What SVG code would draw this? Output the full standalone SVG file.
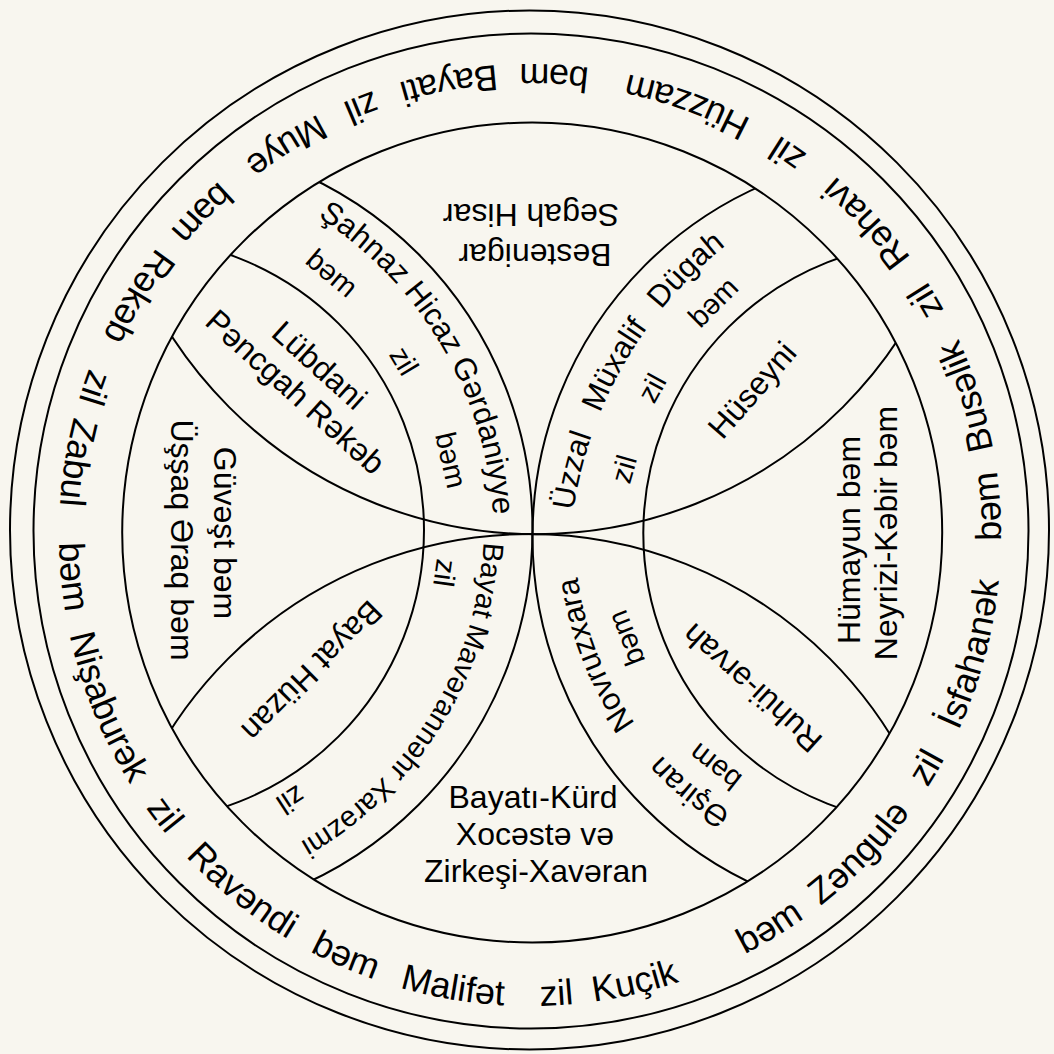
<svg xmlns="http://www.w3.org/2000/svg" width="1054" height="1054" viewBox="0 0 1054 1054">
<defs>
<style>
.ln{fill:none;stroke:#000;stroke-width:2}
text{font-family:"Liberation Sans",Arial,sans-serif;fill:#000}
.ring{font-size:36px;text-anchor:middle}
.lab{font-size:32px;text-anchor:middle;dominant-baseline:central}
.lb{font-size:32px;text-anchor:middle}
.band{font-size:31px;text-anchor:middle}
.band2{font-size:29px;text-anchor:middle}
.sm{font-size:29px;text-anchor:middle;dominant-baseline:central}
</style>
<clipPath id="clipInner"><circle cx="532.2" cy="532.5" r="410"/></clipPath>
<path id="ringPath" d="M 714 968.6 A 471 471 0 1 0 346 101.4 A 471 471 0 1 0 714 968.6"/>
<path id="pUL" d="M 241.3 179.1 A 384 384 0 0 1 489.3 600.1"/>
<path id="pLL" d="M 480.4 471.6 A 369 369 0 0 1 229 874"/>
<path id="pUR" d="M 569 571 A 416 416 0 0 1 842.7 180.1"/>
<path id="pLR" d="M 844 855 A 326 326 0 0 1 579.6 477.4"/>
</defs>
<rect width="1054" height="1054" fill="#f8f6ef"/>

<g id="connectors">
<circle class="ln" cx="529.5" cy="530" r="519.5"/>
<circle class="ln" cx="531" cy="531" r="497.5"/>
<circle class="ln" cx="532.2" cy="532.5" r="410"/>
<g clip-path="url(#clipInner)">
<circle class="ln" cx="142.9" cy="529.5" r="389.6"/>
<circle class="ln" cx="916.2" cy="536.7" r="383.7"/>
<circle class="ln" cx="536" cy="100.2" r="434"/>
<circle class="ln" cx="529" cy="959.4" r="425.4"/>
<circle class="ln" cx="131.8" cy="530" r="292.2"/>
<circle class="ln" cx="934.4" cy="533" r="291.1"/>
</g>
</g>

<g id="outer-ring">
<text class="ring"><textPath href="#ringPath" startOffset="69">bəm</textPath></text>
<text class="ring"><textPath href="#ringPath" startOffset="189">Zəngulə</textPath></text>
<text class="ring"><textPath href="#ringPath" startOffset="301">zil</textPath></text>
<text class="ring"><textPath href="#ringPath" startOffset="427">İsfahanək</textPath></text>
<text class="ring"><textPath href="#ringPath" startOffset="580">bəm</textPath></text>
<text class="ring"><textPath href="#ringPath" startOffset="695">Busəlik</textPath></text>
<text class="ring"><textPath href="#ringPath" startOffset="802">zil</textPath></text>
<text class="ring"><textPath href="#ringPath" startOffset="903">Rəhavi</textPath></text>
<text class="ring"><textPath href="#ringPath" startOffset="1011">zil</textPath></text>
<text class="ring"><textPath href="#ringPath" startOffset="1126">Hüzzam</textPath></text>
<text class="ring"><textPath href="#ringPath" startOffset="1266">bəm</textPath></text>
<text class="ring"><textPath href="#ringPath" startOffset="1374">Bayati</textPath></text>
<text class="ring"><textPath href="#ringPath" startOffset="1467">zil</textPath></text>
<text class="ring"><textPath href="#ringPath" startOffset="1554">Muye</textPath></text>
<text class="ring"><textPath href="#ringPath" startOffset="1665">bəm</textPath></text>
<text class="ring"><textPath href="#ringPath" startOffset="1773">Rəkəb</textPath></text>
<text class="ring"><textPath href="#ringPath" startOffset="1877">zil</textPath></text>
<text class="ring"><textPath href="#ringPath" startOffset="1956">Zabul</textPath></text>
<text class="ring"><textPath href="#ringPath" startOffset="2073">bəm</textPath></text>
<text class="ring"><textPath href="#ringPath" startOffset="2212">Nişaburək</textPath></text>
<text class="ring"><textPath href="#ringPath" startOffset="2338">zil</textPath></text>
<text class="ring"><textPath href="#ringPath" startOffset="2450">Ravəndi</textPath></text>
<text class="ring"><textPath href="#ringPath" startOffset="2576">bəm</textPath></text>
<text class="ring"><textPath href="#ringPath" startOffset="2691">Malifət</textPath></text>
<text class="ring"><textPath href="#ringPath" startOffset="2797">zil</textPath></text>
<text class="ring"><textPath href="#ringPath" startOffset="2878">Kuçik</textPath></text>
</g>

<g id="node-bestenigar">
<text class="lab" transform="translate(531,215) rotate(180)">Segah Hisar</text>
<text class="lab" transform="translate(535,255) rotate(180)">Bestenigar</text>
</g>

<g id="node-sahnaz">
<text class="band"><textPath href="#pUL" startOffset="50%">Şahnaz Hicaz Gərdaniyye</textPath></text>
<text class="sm" transform="translate(332,273) rotate(40)">bəm</text>
<text class="sm" transform="translate(404,361) rotate(59)">zil</text>
<text class="sm" transform="translate(451,460) rotate(77)">bəm</text>
</g>

<g id="node-lubdani">
<text class="lab" transform="translate(307.5,378.5) rotate(42)"><tspan x="0" y="-18">Lübdani</tspan><tspan x="0" y="18">Pəncgah Rəkəb</tspan></text>
</g>

<g id="node-guvest">
<text class="lab" transform="translate(225,533) rotate(90)">Güvəşt bəm</text>
<text class="lab" transform="translate(182,540) rotate(90)">Üşşaq Əraq bəm</text>
</g>

<g id="node-bayat-huzan">
<text class="lab" transform="translate(312,671) rotate(135)">Bayat Hüzan</text>
</g>

<g id="node-maveranneher">
<text class="band2"><textPath href="#pLL" startOffset="108">Bayat</textPath></text>
<text class="band2"><textPath href="#pLL" startOffset="238">Mavərannəhr</textPath></text>
<text class="band2"><textPath href="#pLL" startOffset="384">Xarəzmi</textPath></text>
<text class="sm" transform="translate(445,573) rotate(98)">zil</text>
<text class="sm" transform="translate(291,800) rotate(147)">zil</text>
</g>

<g id="node-bayati-kurd">
<text class="lb" x="533" y="808">Bayatı-Kürd</text>
<text class="lb" x="535" y="845">Xocəstə və</text>
<text class="lb" x="536" y="882">Zirkeşi-Xavəran</text>
</g>

<g id="node-uzzal">
<text class="band"><textPath href="#pUR" startOffset="99.5">Üzzal</textPath></text>
<text class="band"><textPath href="#pUR" startOffset="211">Müxalif</textPath></text>
<text class="band"><textPath href="#pUR" startOffset="328">Dügah</textPath></text>
<text class="sm" transform="translate(624,469) rotate(-74)">zil</text>
<text class="sm" transform="translate(652,388) rotate(-61)">zil</text>
<text class="sm" transform="translate(713,302) rotate(-45)">bəm</text>
</g>

<g id="node-huseyni">
<text class="lab" transform="translate(752,390) rotate(-49)">Hüseyni</text>
</g>

<g id="node-humayun">
<text class="lab" transform="translate(849,540) rotate(-90)">Hümayun bəm</text>
<text class="lab" transform="translate(886,533) rotate(-90)">Neyrizi-Kəbir bəm</text>
</g>

<g id="node-ruhui">
<text class="lab" transform="translate(752,688) rotate(222)">Ruhüi-ərvah</text>
</g>

<g id="node-novruzxara">
<text class="band"><textPath href="#pLR" startOffset="166.7">Əşiran</textPath></text>
<text class="band"><textPath href="#pLR" startOffset="332.3">Novruzxara</textPath></text>
<text class="sm" transform="translate(626,638) rotate(249)">bəm</text>
<text class="sm" transform="translate(715,767) rotate(218)">bəm</text>
</g>
</svg>
